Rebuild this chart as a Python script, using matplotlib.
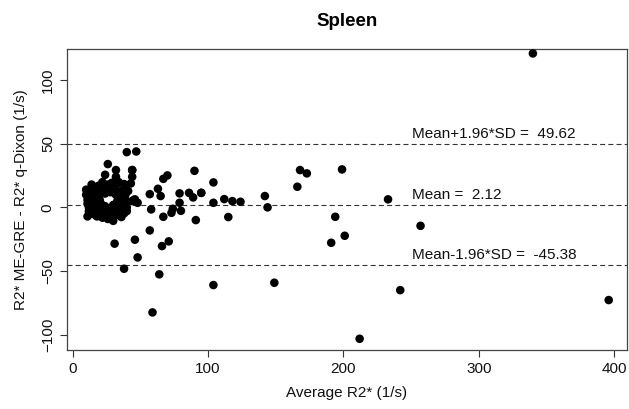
import matplotlib
matplotlib.use("Agg")
import matplotlib.pyplot as plt

plt.rcParams['font.family'] = ['Liberation Sans', 'DejaVu Sans']
plt.rcParams['lines.scale_dashes'] = False

# Average R2* (x) and difference ME-GRE - q-Dixon (y)
avg_r2 = [
    # sparse points
    340, 168, 173, 166, 199, 233, 194, 201, 191, 257, 242, 212, 396,
    95, 104, 104, 112, 118, 124, 115, 142, 144, 149,
    57, 46, 66, 71, 48, 64, 104, 59, 38,
    44, 44, 67, 70, 90, 63, 57, 65, 79, 86, 89, 95, 79, 46, 48, 58, 67, 73, 74, 80, 91,
    40, 47, 26, 32, 44, 24, 32, 43, 22, 29, 38,
    44, 40, 35, 36, 30, 23, 17, 31, 38, 40, 45,
    # dense cluster
    10, 10, 11, 11, 12, 12, 13, 13, 14, 11,
    15, 15, 16, 16, 17, 17, 18, 18, 16, 14,
    19, 20, 20, 21, 21, 22, 22, 20, 19,
    23, 24, 24, 25, 25, 26, 24, 26,
    27, 28, 30, 29, 28, 30, 30, 28,
    31, 32, 33, 32, 33, 34, 34, 32,
    35, 36, 37, 37, 38, 36,
    39, 40, 41, 34,
]
diff_r2 = [
    121.0, 29.4, 26.8, 16.3, 29.9, 6.4, -7.3, -22.2, -27.7, -14.4, -64.9, -103.1, -72.7,
    11.5, 19.7, 3.7, 6.6, 5.0, 4.5, -7.5, 9.0, 0.1, -59.1,
    -18.0, -25.3, -30.3, -26.6, -39.2, -52.5, -60.9, -82.4, -48.1,
    29.4, 24.1, 22.5, 25.2, 28.8, 14.7, 10.5, 9.0, 11.1, 11.5, 7.9, 11.5, 3.7, 6.4, 3.7, -1.5, -7.3, -4.2, -1.0, -2.6, -9.9,
    43.5, 44.0, 34.1, 29.4, 29.4, 25.7, 24.1, 18.9, 19.9, 19.4, 18.4,
    5.0, -2.8, -3.4, -7.5, -10.5, -7.5, -6.0, -28.4, -4.6, 0.1, 5.8,
    14, 10, 6, 3, 0, -3, -5, 8, 12, -7,
    16, 12, 9, 5, 2, -1, -4, -7, 14, 18,
    17, 13, 10, 3, 0, -3, -8, 6, -5,
    15, 11, 1, -2, -5, -9, 13, 18,
    16, 12, -1, -4, -7, 2, 14, -9,
    14, 10, 5, 1, -3, -6, 7, 17,
    12, 8, 3, -1, 15, -5,
    10, 5, 13, 20,
]

line_values = [49.62, 2.12, -45.38]
line_labels = ['Mean+1.96*SD =  49.62', 'Mean =  2.12', 'Mean-1.96*SD =  -45.38']

fig = plt.figure(figsize=(6.29, 4.09), dpi=100)
ax = fig.add_axes([0.106, 0.144, 0.891, 0.735])

ax.scatter(avg_r2, diff_r2, s=38, color='black', edgecolors='none', zorder=3)

for val, lab in zip(line_values, line_labels):
    ax.axhline(val, color='#333333', lw=0.8, linestyle=(0, (3.6, 2.3)))
    ax.text(250.5, val + 4.6, lab, fontsize=11, va='baseline', ha='left', color='#111111')

ax.set_xlim(-4.4, 409.6)
ax.set_ylim(-112, 124.1)
ax.set_xticks([0, 100, 200, 300, 400])
ax.set_yticks([-100, -50, 0, 50, 100])
ax.tick_params(axis='both', labelsize=11, length=5, width=0.8, color='#333333', labelcolor='#111111')
for lab in ax.get_yticklabels():
    lab.set_rotation(90)
    lab.set_va('center')
for sp in ax.spines.values():
    sp.set_color('#444444')
    sp.set_linewidth(0.9)

ax.set_xlabel('Average R2* (1/s)', fontsize=11, labelpad=7, color='#111111')
ax.set_ylabel('R2* ME-GRE - R2* q-Dixon (1/s)', fontsize=11, labelpad=9, color='#111111')
ax.set_title('Spleen', fontsize=13.5, fontweight='bold', pad=17)

fig.savefig('out.png', dpi=100)
